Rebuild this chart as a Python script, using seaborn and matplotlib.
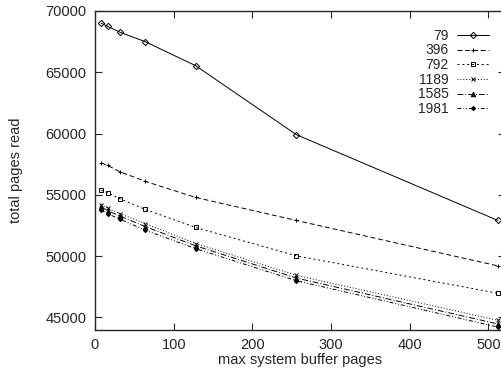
import numpy as np
import pandas as pd
import matplotlib
matplotlib.use("Agg")
import matplotlib.pyplot as plt
import seaborn as sns

sns.set_style("ticks")
plt.rcParams['font.family'] = ['Liberation Sans', 'DejaVu Sans']

# buffer sizes (x) and one series per line
buffer_pages = [8, 16, 32, 64, 128, 256, 512]
series_names = ['79', '396', '792', '1189', '1585', '1981']
pages_79 = [69000, 68750, 68260, 67490, 65530, 59900, 52900]
pages_396 = [57610, 57390, 56870, 56090, 54780, 52900, 49190]
pages_792 = [55380, 55160, 54660, 53800, 52330, 50010, 46960]
pages_1189 = [54200, 53900, 53450, 52650, 51020, 48420, 44750]
pages_1585 = [54000, 53700, 53250, 52400, 50830, 48200, 44450]
pages_1981 = [53750, 53450, 53000, 52100, 50600, 47980, 44200]
all_pages = [pages_79, pages_396, pages_792, pages_1189, pages_1585, pages_1981]

# gnuplot-ish styles
markers = ['D', '+', 's', 'x', '^', (8, 2, 0)]
fills = ['none', 'k', 'none', 'k', 'k', 'k']
dashes = ['-', (0, (5, 3)), (0, (2, 3)), (0, (1, 2)), (0, (6, 2, 1, 2)), (0, (4, 2, 1, 2, 1, 2))]

fig = plt.figure(figsize=(5.02, 3.72), dpi=100)
ax = fig.add_axes([95 / 502, (372 - 329.5) / 372, (505 - 95) / 502, (329.5 - 11) / 372])

for name, vals, m, fc, ls in zip(series_names, all_pages, markers, fills, dashes):
    sns.lineplot(x=buffer_pages, y=vals, ax=ax, color='k', marker=m, markersize=3.2,
                 markerfacecolor=fc, markeredgecolor='k', markeredgewidth=0.7,
                 linestyle=ls, linewidth=0.7, label=name)

ax.set_xlim(0, 521)
ax.set_ylim(44000, 70000)
ax.set_xticks([0, 100, 200, 300, 400, 500])
ax.set_yticks([45000, 50000, 55000, 60000, 65000, 70000])
ax.tick_params(direction='in', top=True, right=True, length=5, width=0.8, labelsize=10.5, pad=6)
for s in ax.spines.values():
    s.set_linewidth(1.0)
    s.set_visible(True)

ax.set_xlabel('max system buffer pages', fontsize=10.5, labelpad=1)
ax.set_ylabel('total pages read', fontsize=10.5, labelpad=16)

ax.legend(loc='upper right', bbox_to_anchor=(0.985, 0.975), frameon=False,
          markerfirst=False, fontsize=10, labelspacing=0.05, handlelength=2.3,
          handletextpad=0.6, borderpad=0.2)

fig.savefig('out.png', dpi=100)
